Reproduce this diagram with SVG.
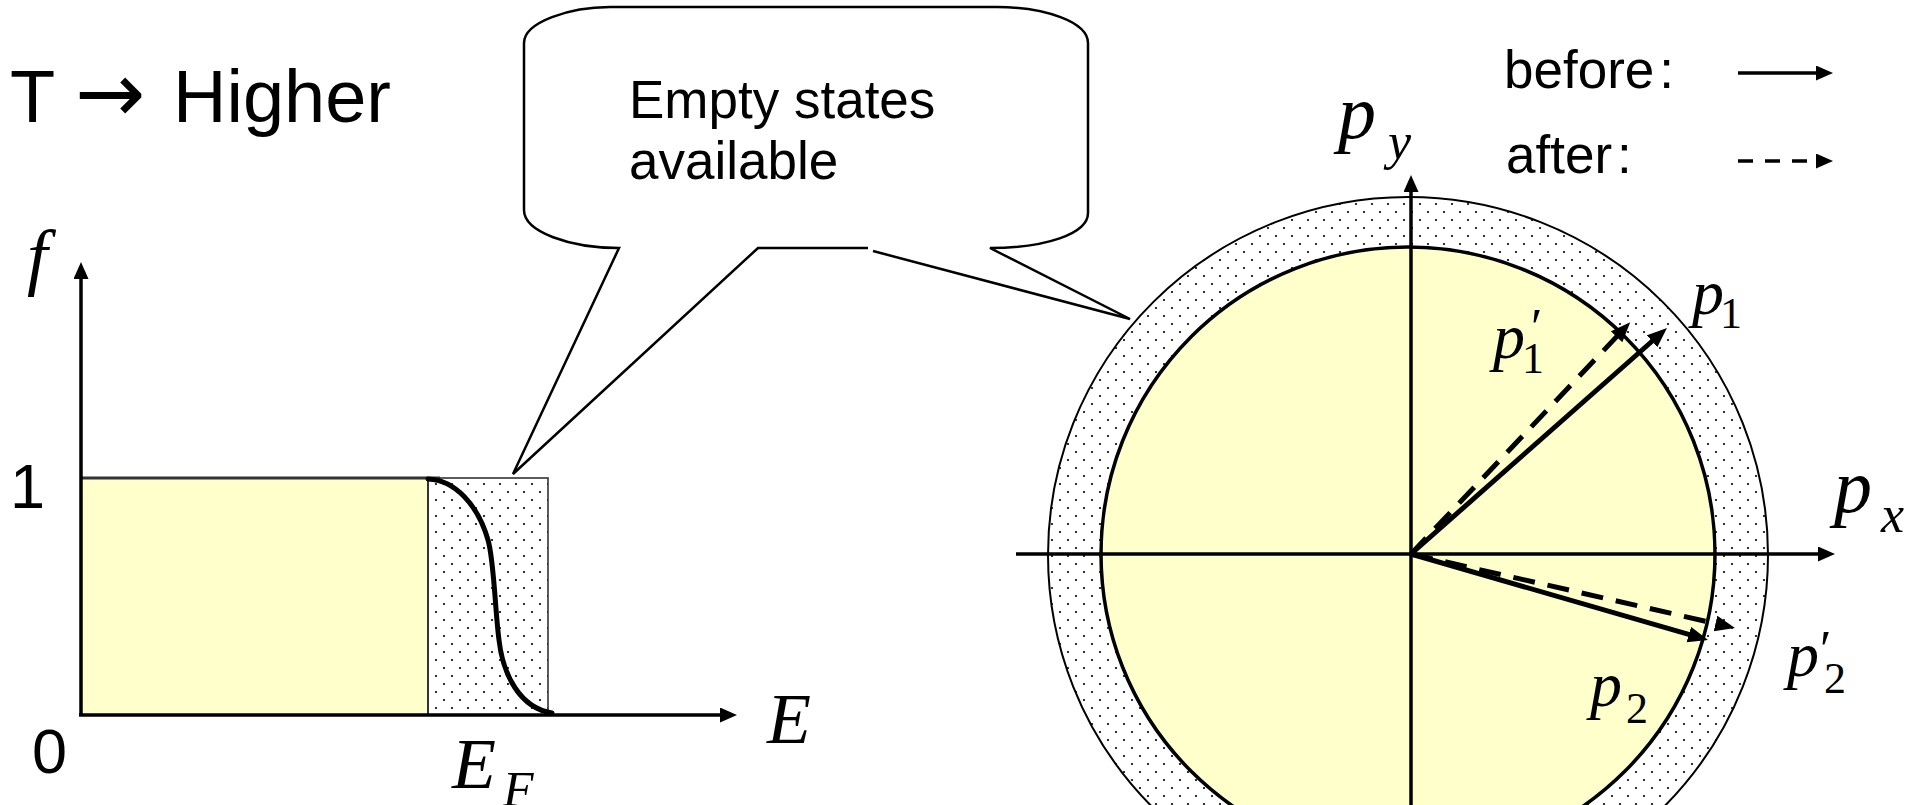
<svg xmlns="http://www.w3.org/2000/svg" width="1920" height="805" viewBox="0 0 1920 805">
<style>
.sans{font-family:"Liberation Sans",Arial,sans-serif;fill:#000}
.math{font-family:"Liberation Serif","Times New Roman",serif;font-style:italic;fill:#000}
.up{font-family:"Liberation Serif","Times New Roman",serif;font-style:normal;fill:#000}
.axis{stroke:#000;stroke-width:3.5;fill:none}
.vec{stroke:#000;stroke-width:5;fill:none}
.dash{stroke-dasharray:22 13}
</style>
<defs>
<pattern id="dots" width="16" height="16" patternUnits="userSpaceOnUse">
<rect width="16" height="16" fill="#fff"/>
<circle cx="4" cy="4" r="1.1" fill="#000"/>
<circle cx="12" cy="12" r="1.1" fill="#000"/>
</pattern>
<marker id="ah" markerWidth="18" markerHeight="16" refX="9" refY="7.5" orient="auto" markerUnits="userSpaceOnUse">
<path d="M0,0 L17,7.5 L0,15 Z" fill="#000"/>
</marker>
<marker id="vh" markerWidth="22" markerHeight="18" refX="8" refY="8" orient="auto" markerUnits="userSpaceOnUse">
<path d="M0,0 L20,8 L0,16 Z" fill="#000"/>
</marker>
</defs>
<rect width="1920" height="805" fill="#fff"/>

<g id="title">
<text class="sans" x="10" y="122" font-size="74"><tspan x="10">T </tspan><tspan x="75" font-family="'DejaVu Sans',sans-serif" font-size="84">→ </tspan><tspan x="173">Higher</tspan></text>
</g>

<g id="fermi-plot">
<rect x="81" y="478" width="347" height="237" fill="#FFFFCC"/>
<rect x="428" y="478" width="120" height="237" fill="url(#dots)" stroke="#333" stroke-width="1.6"/>
<line x1="81" y1="478" x2="440" y2="478" stroke="#333" stroke-width="3"/>
<line x1="428" y1="478" x2="428" y2="715" stroke="#333" stroke-width="2"/>
<path d="M428,479 C455,480 478,505 488,540 C494,560 495,610 499,640 C503,675 520,708 552,713" fill="none" stroke="#000" stroke-width="5" stroke-linecap="round"/>
<text class="math" x="27" y="281" font-size="74">f</text>
<text class="sans" x="10" y="508" font-size="63">1</text>
<text class="sans" x="32" y="773" font-size="63">0</text>
<text class="math" x="767" y="743" font-size="72">E</text>
<text class="math" x="452" y="788" font-size="72">E</text>
<text class="math" x="503" y="806" font-size="50">F</text>
</g>

<g id="callout">
<path d="M868,248 L758,248 L513,474 L619,248 C570,248 524,232 524,210 L524,43 C524,22 570,7 610,7 L997,7 C1045,7 1088,22 1088,43 L1088,213 C1088,234 1045,248 990,248 L1130,319 L873,251" fill="#fff" stroke="#000" stroke-width="2.5" stroke-linejoin="miter"/>
<text class="sans" x="629" y="118" font-size="53">Empty states</text>
<text class="sans" x="629" y="179" font-size="53">available</text>
</g>

<g id="fermi-sphere">
<ellipse cx="1408" cy="555" rx="360" ry="358" fill="url(#dots)" stroke="#000" stroke-width="2"/>
<circle cx="1408" cy="554" r="307" fill="#FFFFCC" stroke="#000" stroke-width="3.5"/>
<text class="math" x="1834" y="512" font-size="76">p</text>
<text class="math" x="1881" y="532" font-size="52">x</text>
<text class="math" x="1338" y="138" font-size="76">p</text>
<text class="math" x="1388" y="159" font-size="52">y</text>
<text class="math" x="1692" y="314" font-size="64">p</text>
<text class="up" x="1720" y="328" font-size="44">1</text>
<text class="math" x="1493" y="358" font-size="64">p</text>
<text class="up" x="1531" y="345" font-size="52">′</text>
<text class="up" x="1522" y="373" font-size="44">1</text>
<text class="math" x="1590" y="706" font-size="64">p</text>
<text class="up" x="1626" y="723" font-size="44">2</text>
<text class="math" x="1787" y="676" font-size="64">p</text>
<text class="up" x="1820" y="667" font-size="52">′</text>
<text class="up" x="1824" y="693" font-size="44">2</text>
</g>

<g id="legend">
<text class="sans" x="1504" y="88" font-size="53">before<tspan dx="5">:</tspan></text>
<text class="sans" x="1506" y="173" font-size="53">after<tspan dx="5">:</tspan></text>
</g>

<g id="connectors">
<line class="axis" x1="81" y1="715" x2="81" y2="270" marker-end="url(#ah)"/>
<line class="axis" x1="79" y1="715" x2="729" y2="715" stroke-width="4.5" marker-end="url(#ah)"/>
<line class="axis" x1="1016" y1="554" x2="1827" y2="554" marker-end="url(#ah)"/>
<line class="axis" x1="1411" y1="805" x2="1411" y2="183" marker-end="url(#ah)"/>
<line class="vec" x1="1411" y1="554" x2="1658" y2="336" marker-end="url(#vh)"/>
<line class="vec dash" x1="1411" y1="554" x2="1622" y2="331" marker-end="url(#vh)"/>
<line class="vec" x1="1411" y1="554" x2="1696.5" y2="636.7" marker-end="url(#vh)"/>
<line class="vec dash" x1="1411" y1="554" x2="1723.3" y2="625.3" marker-end="url(#vh)"/>
<line class="axis" x1="1738" y1="73" x2="1825" y2="73" stroke-width="4" marker-end="url(#ah)"/>
<line class="axis" x1="1738" y1="161" x2="1825" y2="161" stroke-width="4" stroke-dasharray="15 12" marker-end="url(#ah)"/>
</g>
</svg>
